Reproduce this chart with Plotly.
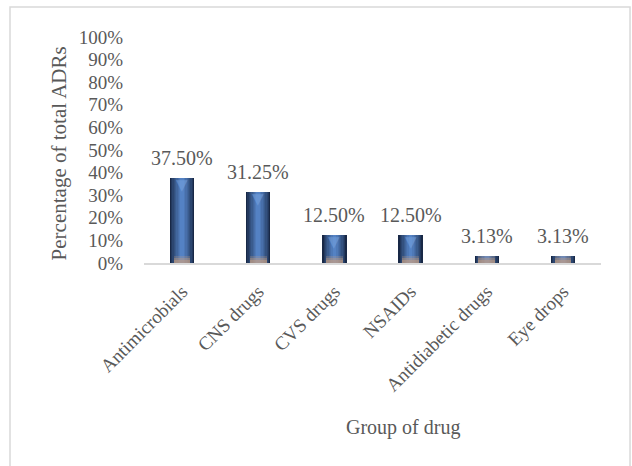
import plotly.graph_objects as go

# Share of adverse drug reactions by drug group
groups = ["Antimicrobials", "CNS drugs", "CVS drugs", "NSAIDs",
          "Antidiabetic drugs", "Eye drops"]
percent = [37.50, 31.25, 12.50, 12.50, 3.13, 3.13]
y_ticks = list(range(0, 101, 10))
y_tick_labels = [f"{t}%" for t in y_ticks]

FONT = "Liberation Serif, Times New Roman, serif"
GREY = "#595959"

fig = go.Figure()


def mix(c1, c2, t):
    return "#" + "".join(f"{round(a + (b - a) * t):02x}" for a, b in zip(c1, c2))


# nested bars of shrinking width: dark rim blending into a lighter core
rim, core = (24, 40, 70), (84, 130, 196)
n_layers = 9
for i in range(n_layers):
    t = i / (n_layers - 1)
    fig.add_trace(go.Bar(x=groups, y=percent, width=0.32 * (1 - 0.85 * t),
                         marker=dict(color=mix(rim, core, t ** 0.8), line=dict(width=0)),
                         hoverinfo="skip", showlegend=False))

# warm glow rising from the foot of each bar
for h, a in [(3.0, 0.25), (2.0, 0.35), (1.2, 0.45)]:
    fig.add_trace(go.Bar(x=groups, y=[min(v, h) for v in percent], width=0.22,
                         marker=dict(color=f"rgba(200,160,130,{a})", line=dict(width=0)),
                         hoverinfo="skip", showlegend=False))

# bevel highlight at the top of the taller bars
for g, v in zip(groups, percent):
    if v > 10:
        fig.add_annotation(x=g, y=v, text="▼", showarrow=False, xref="x", yref="y",
                           yanchor="top", yshift=4,
                           font=dict(family="DejaVu Sans", size=15,
                                     color="rgba(120,165,225,0.55)"))

# value labels above bars
for g, v in zip(groups, percent):
    fig.add_annotation(x=g, y=v, text=f"{v:.2f}%", showarrow=False,
                       xref="x", yref="y", yanchor="bottom", yshift=7,
                       font=dict(family=FONT, size=20, color=GREY))

# axis titles
fig.add_annotation(text="Percentage of total ADRs", textangle=-90,
                   xref="paper", yref="paper", x=-0.186, y=0.485,
                   xanchor="center", yanchor="middle",
                   showarrow=False, font=dict(family=FONT, size=21, color=GREY))
fig.add_annotation(text="Group of drug", xref="paper", yref="paper",
                   x=0.567, y=-0.726, xanchor="center", yanchor="middle",
                   showarrow=False, font=dict(family=FONT, size=20, color=GREY))

# chart-area border
fig.add_shape(type="rect", xref="paper", yref="paper",
              x0=-0.2932, x1=1.0635, y0=-0.93, y1=1.1327,
              line=dict(color="#d9d9d9", width=1.5))

fig.update_layout(
    width=632, height=466,
    margin=dict(l=144, r=31, t=37, b=203),
    barmode="overlay",
    bargap=0,
    plot_bgcolor="white", paper_bgcolor="white",
    font=dict(family=FONT, size=19, color=GREY),
)
fig.update_xaxes(
    showline=True, linecolor="#d9d9d9", linewidth=2,
    tickangle=-45, ticks="outside", ticklen=8, tickcolor="rgba(0,0,0,0)",
    tickfont=dict(family=FONT, size=19, color=GREY),
    showgrid=False, zeroline=False,
)
fig.update_yaxes(
    range=[0, 100], tickvals=y_ticks, ticktext=y_tick_labels,
    ticks="outside", ticklen=16, tickcolor="rgba(0,0,0,0)",
    tickfont=dict(family=FONT, size=19, color=GREY),
    showgrid=False, zeroline=False, showline=False,
)

fig.write_html("out.html")
